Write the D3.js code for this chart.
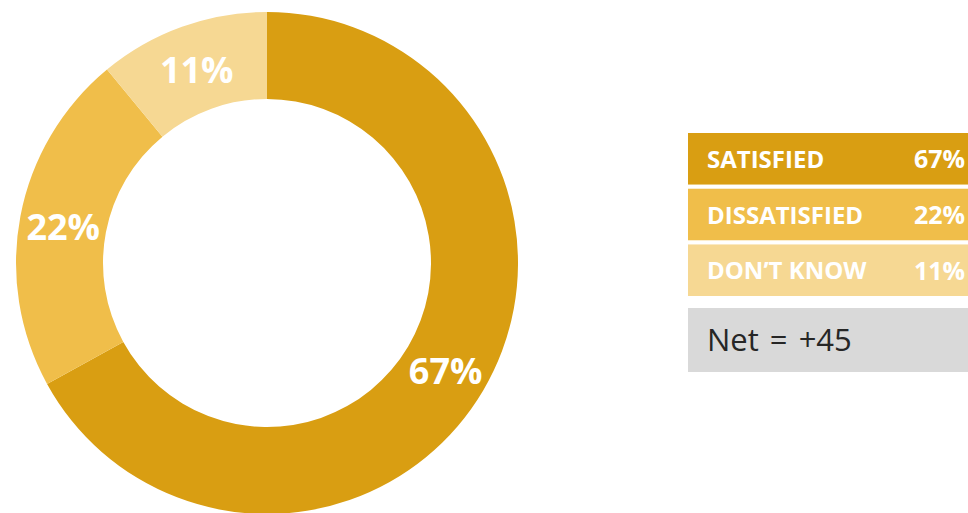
<!DOCTYPE html>
<html>
<head>
<meta charset="utf-8">
<script src="https://cdn.jsdelivr.net/npm/d3@7/dist/d3.min.js"></script>
<style>
  html, body { margin: 0; padding: 0; background: #ffffff; }
  svg { display: block; }
</style>
</head>
<body>
<svg id="chart" width="968" height="513"></svg>
<script>
// Survey responses
const categories = ["SATISFIED", "DISSATISFIED", "DON\u2019T KNOW"];
const values = [67, 22, 11];
const colors = ["#D99E12", "#F0BE4A", "#F6D893"];
const netLabel = "Net = +45";

const svg = d3.select("#chart");
const W = 968, H = 513;
const font = "'Open Sans', 'Noto Sans', sans-serif";

// Donut
const cx = 267, cy = 263, outerR = 251, innerR = 164;
const pie = d3.pie().sort(null).value(d => d.value);
const arcs = pie(categories.map((c, i) => ({ name: c, value: values[i], color: colors[i] })));
const arc = d3.arc().innerRadius(innerR).outerRadius(outerR);

const g = svg.append("g").attr("transform", `translate(${cx},${cy})`);
g.selectAll("path.slice")
  .data(arcs)
  .join("path")
  .attr("class", "slice")
  .attr("d", arc)
  .attr("fill", d => d.data.color);

g.selectAll("text.pct")
  .data(arcs)
  .join("text")
  .attr("class", "pct")
  .attr("transform", d => `translate(${arc.centroid(d)})`)
  .attr("text-anchor", "middle")
  .attr("dy", "0.43em")
  .attr("fill", "#ffffff")
  .attr("font-family", font)
  .attr("font-weight", 700)
  .attr("font-size", 36)
  .text(d => d.data.value + "%");

// Legend table
const legX = 688, legW = W - legX;
const rowY = d3.scaleBand()
  .domain(d3.range(categories.length))
  .range([133, 296])
  .paddingInner(0.075);

const rows = svg.selectAll("g.row")
  .data(categories.map((c, i) => ({ name: c, value: values[i], color: colors[i], i })))
  .join("g")
  .attr("class", "row")
  .attr("transform", d => `translate(${legX},${rowY(d.i)})`);

rows.append("rect")
  .attr("width", legW)
  .attr("height", rowY.bandwidth())
  .attr("fill", d => d.color);

rows.append("text")
  .attr("x", 19)
  .attr("y", rowY.bandwidth() / 2)
  .attr("dy", "0.38em")
  .attr("fill", "#ffffff")
  .attr("font-family", font)
  .attr("font-weight", 700)
  .attr("font-size", 24)
  .text(d => d.name);

rows.append("text")
  .attr("x", legW - 3)
  .attr("y", rowY.bandwidth() / 2)
  .attr("dy", "0.38em")
  .attr("text-anchor", "end")
  .attr("fill", "#ffffff")
  .attr("font-family", font)
  .attr("font-weight", 700)
  .attr("font-size", 25)
  .text(d => d.value + "%");

// Net score box
const net = svg.append("g").attr("transform", `translate(${legX},308)`);
net.append("rect").attr("width", legW).attr("height", 64).attr("fill", "#D9D9D9");
net.append("text")
  .attr("x", 19)
  .attr("y", 32)
  .attr("dy", "0.37em")
  .attr("fill", "#262626")
  .attr("font-family", font)
  .attr("font-size", 31)
  .attr("word-spacing", 3)
  .text(netLabel);
</script>
</body>
</html>
